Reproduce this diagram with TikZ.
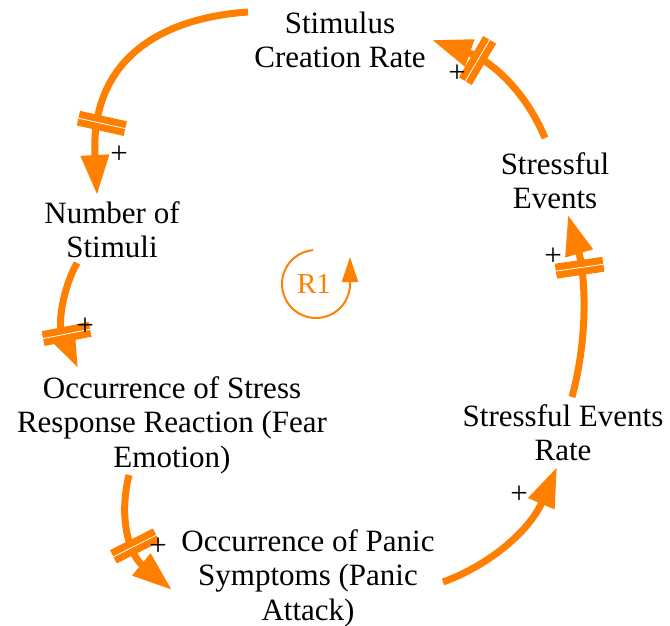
\documentclass[tikz,border=0pt]{standalone}
\usepackage{fontspec}
\setmainfont{Liberation Serif}
\usetikzlibrary{arrows.meta,decorations.markings}
\definecolor{loopor}{RGB}{255,128,0}
\begin{document}
\begin{tikzpicture}[x=1pt,y=-1pt,
  var/.style={font=\fontsize{31}{34.5}\selectfont, align=center, inner sep=0pt, text=black},
  pol/.style={font=\fontsize{31}{34.5}\selectfont, inner sep=0pt, text=black},
  link/.style={draw=loopor, line width=7pt, -{Triangle[length=40pt,width=27pt]}},
  delaymark/.style={postaction={-, decorate, decoration={markings,
      mark=at position #1 with {
        \fill[loopor] (-7.5pt,-24pt) rectangle (7.5pt,24pt);
        \draw[white, line width=0.8pt] (0pt,-24pt) -- (0pt,24pt);}}}},
  looplabel/.style={font=\fontsize{29}{34}\selectfont, text=loopor, inner sep=0pt}
]
\useasboundingbox (0,0) rectangle (670,626);

% variables
\node[var] (sc)  at (340,40)    {Stimulus\\Creation Rate};
\node[var] (ns)  at (112,229.5) {Number of\\Stimuli};
\node[var] (osr) at (172,425)   {Occurrence of Stress\\Response Reaction (Fear\\Emotion)};
\node[var] (ops) at (308,578)   {Occurrence of Panic\\Symptoms (Panic\\Attack)};
\node[var] (ser) at (563,432.5) {Stressful Events\\Rate};
\node[var] (se)  at (555,180.5) {Stressful\\Events};

% loop marker
\node[looplabel] (r1) at (314,284) {R1};
\draw[loopor, line width=2pt, -{Triangle[length=25pt,width=16pt]}]
  ([shift={(2,0)}]r1.center) ++(95:34pt) arc[start angle=95, end angle=360, radius=34pt] -- ++(0pt,27pt);

% links
\draw[link, delaymark=-72pt] ([shift={(-92,-28)}]sc.center)
  .. controls (160,18) and (90,60) .. ([shift={(-15,-34.5)}]ns.center);
\draw[link, delaymark=-36pt] ([shift={(-35,33.5)}]ns.center)
  .. controls (62,290) and (58,325) .. ([shift={(-94,-57)}]osr.center);
\draw[link, delaymark=-58pt] ([shift={(-43,50)}]osr.center)
  .. controls (118,520) and (130,555) .. ([shift={(-136,12)}]ops.center);
\draw[link] ([shift={(135,4)}]ops.center)
  .. controls (490,565) and (530,530) .. ([shift={(-6,34.5)}]ser.center);
\draw[link, delaymark=-54pt] ([shift={(9,-35.5)}]ser.center)
  .. controls (590,330) and (584,270) .. ([shift={(13,34.5)}]se.center);
\draw[link, delaymark=-50pt] ([shift={(-10,-42.5)}]se.center)
  .. controls (525,90) and (490,60) .. ([shift={(92,0)}]sc.center);

% polarities
\node[pol] (p1) at (119,155) {+};
\node[pol] (p2) at (85,327)  {+};
\node[pol] (p3) at (158,547) {+};
\node[pol] (p4) at (519,495) {+};
\node[pol] (p5) at (553,257) {+};
\node[pol] (p6) at (457,74)  {+};
\end{tikzpicture}
\end{document}
